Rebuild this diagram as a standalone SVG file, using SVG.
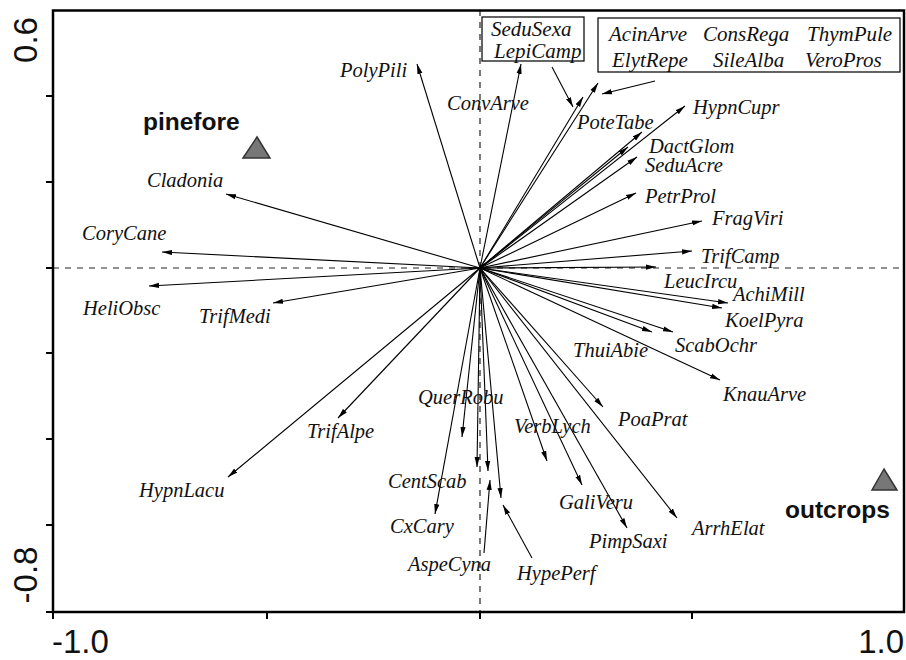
<svg xmlns="http://www.w3.org/2000/svg" width="906" height="660" viewBox="0 0 906 660">
<defs>
<marker id="ah" markerUnits="userSpaceOnUse" markerWidth="10" markerHeight="6" viewBox="0 0 10 6" refX="10" refY="3" orient="auto">
<path d="M0,0.4 L10,3 L0,5.6 z" fill="#000"/>
</marker>
<style>
.sp{font-family:"Liberation Serif","Times New Roman",serif;font-style:italic;font-size:20.5px;fill:#111}
.bx{font-family:"Liberation Serif","Times New Roman",serif;font-style:italic;font-size:21px;fill:#111}
.site{font-family:"Liberation Sans",Arial,sans-serif;font-weight:bold;font-size:24.5px;fill:#111}
.ax{font-family:"Liberation Sans",Arial,sans-serif;font-size:33px;fill:#111}
.arr line{stroke:#000;stroke-width:1.1;marker-end:url(#ah)}
.frame{fill:none;stroke:#000;stroke-width:2.5}
.dash{stroke:#222;stroke-width:1.2;stroke-dasharray:6 6}
.tick{stroke:#000;stroke-width:2}
.tri{fill:#777;stroke:#333;stroke-width:1.5}
.box{fill:none;stroke:#111;stroke-width:1.3}
</style>
</defs>
<rect width="906" height="660" fill="#fff"/>

<g id="axes">
<line class="dash" x1="53" y1="268" x2="905" y2="268"/>
<line class="dash" x1="480" y1="10" x2="480" y2="612"/>
<rect class="frame" x="53" y="10.5" width="851" height="601.5"/>
<line class="tick" x1="46" y1="96" x2="53" y2="96"/>
<line class="tick" x1="46" y1="182" x2="53" y2="182"/>
<line class="tick" x1="46" y1="268" x2="53" y2="268"/>
<line class="tick" x1="46" y1="353" x2="53" y2="353"/>
<line class="tick" x1="46" y1="439" x2="53" y2="439"/>
<line class="tick" x1="46" y1="525" x2="53" y2="525"/>
<line class="tick" x1="46" y1="612" x2="53" y2="612"/>
<line class="tick" x1="53" y1="612" x2="53" y2="619"/>
<line class="tick" x1="267" y1="612" x2="267" y2="619"/>
<line class="tick" x1="480" y1="612" x2="480" y2="619"/>
<line class="tick" x1="692" y1="612" x2="692" y2="619"/>
<text class="ax" transform="translate(37,40) rotate(-90)" text-anchor="middle">0.6</text>
<text class="ax" transform="translate(37,575) rotate(-90)" text-anchor="middle">-0.8</text>
<text class="ax" x="52" y="653">-1.0</text>
<text class="ax" x="904" y="653" text-anchor="end">1.0</text>
</g>

<g id="connectors" class="arr">
<line x1="480" y1="268" x2="417" y2="64"/>
<line x1="480" y1="268" x2="226" y2="194"/>
<line x1="480" y1="268" x2="162" y2="252"/>
<line x1="480" y1="268" x2="149" y2="286"/>
<line x1="480" y1="268" x2="273" y2="303"/>
<line x1="480" y1="268" x2="228" y2="477"/>
<line x1="480" y1="268" x2="338" y2="418"/>
<line x1="480" y1="268" x2="435" y2="514"/>
<line x1="480" y1="268" x2="462" y2="437"/>
<line x1="480" y1="268" x2="477" y2="467"/>
<line x1="480" y1="268" x2="488" y2="471"/>
<line x1="480" y1="268" x2="501" y2="498"/>
<line x1="480" y1="268" x2="547" y2="461"/>
<line x1="480" y1="268" x2="582" y2="485"/>
<line x1="480" y1="268" x2="627" y2="528"/>
<line x1="480" y1="268" x2="677" y2="518"/>
<line x1="480" y1="268" x2="603" y2="407"/>
<line x1="480" y1="268" x2="720" y2="380"/>
<line x1="480" y1="268" x2="652" y2="332"/>
<line x1="480" y1="268" x2="673" y2="332"/>
<line x1="480" y1="268" x2="728" y2="303"/>
<line x1="480" y1="268" x2="722" y2="308"/>
<line x1="480" y1="268" x2="656" y2="267"/>
<line x1="480" y1="268" x2="692" y2="251"/>
<line x1="480" y1="268" x2="702" y2="221"/>
<line x1="480" y1="268" x2="636" y2="193"/>
<line x1="480" y1="268" x2="637" y2="157"/>
<line x1="480" y1="268" x2="628" y2="147"/>
<line x1="480" y1="268" x2="642" y2="132"/>
<line x1="480" y1="268" x2="685" y2="106"/>
<line x1="480" y1="268" x2="583" y2="97"/>
<line x1="480" y1="268" x2="598" y2="83"/>
<line x1="480" y1="268" x2="521" y2="64"/>
<line x1="552" y1="67" x2="573" y2="107"/>
<line x1="655" y1="81" x2="602" y2="94"/>
<line x1="532" y1="558" x2="503" y2="505"/>
<line x1="484" y1="553" x2="490" y2="480"/>
</g>

<g id="pinefore">
<polygon class="tri" points="257,137 243,158 270,158"/>
<text class="site" x="143" y="130">pinefore</text>
</g>
<g id="outcrops">
<polygon class="tri" points="884,469 872,490 897,490"/>
<text class="site" x="785" y="518">outcrops</text>
</g>

<g id="box-sedu">
<rect class="box" x="482" y="17" width="102" height="44"/>
<text class="bx" x="491" y="36">SeduSexa</text>
<text class="bx" x="494" y="58">LepiCamp</text>
</g>
<g id="box-acin">
<rect class="box" x="598" y="18" width="302" height="54"/>
<text class="bx" x="609" y="41">AcinArve</text>
<text class="bx" x="703" y="41">ConsRega</text>
<text class="bx" x="807" y="41">ThymPule</text>
<text class="bx" x="612" y="67">ElytRepe</text>
<text class="bx" x="713" y="67">SileAlba</text>
<text class="bx" x="805" y="67">VeroPros</text>
</g>

<g id="PolyPili"><text class="sp" x="340" y="77">PolyPili</text></g>
<g id="ConvArve"><text class="sp" x="447" y="110">ConvArve</text></g>
<g id="PoteTabe"><text class="sp" x="577" y="129">PoteTabe</text></g>
<g id="HypnCupr"><text class="sp" x="693" y="114">HypnCupr</text></g>
<g id="DactGlom"><text class="sp" x="649" y="153">DactGlom</text></g>
<g id="SeduAcre"><text class="sp" x="645" y="172">SeduAcre</text></g>
<g id="PetrProl"><text class="sp" x="645" y="203">PetrProl</text></g>
<g id="FragViri"><text class="sp" x="712" y="225">FragViri</text></g>
<g id="TrifCamp"><text class="sp" x="701" y="263">TrifCamp</text></g>
<g id="LeucIrcu"><text class="sp" x="664" y="288">LeucIrcu</text></g>
<g id="AchiMill"><text class="sp" x="733" y="301">AchiMill</text></g>
<g id="KoelPyra"><text class="sp" x="725" y="327">KoelPyra</text></g>
<g id="ScabOchr"><text class="sp" x="675" y="352">ScabOchr</text></g>
<g id="ThuiAbie"><text class="sp" x="573" y="357">ThuiAbie</text></g>
<g id="KnauArve"><text class="sp" x="723" y="401">KnauArve</text></g>
<g id="PoaPrat"><text class="sp" x="618" y="426">PoaPrat</text></g>
<g id="VerbLych"><text class="sp" x="514" y="433">VerbLych</text></g>
<g id="GaliVeru"><text class="sp" x="559" y="509">GaliVeru</text></g>
<g id="PimpSaxi"><text class="sp" x="589" y="548">PimpSaxi</text></g>
<g id="ArrhElat"><text class="sp" x="692" y="535">ArrhElat</text></g>
<g id="HypePerf"><text class="sp" x="517" y="580">HypePerf</text></g>
<g id="AspeCyna"><text class="sp" x="408" y="571">AspeCyna</text></g>
<g id="CxCary"><text class="sp" x="390" y="533">CxCary</text></g>
<g id="CentScab"><text class="sp" x="388" y="488">CentScab</text></g>
<g id="QuerRobu"><text class="sp" x="418" y="404">QuerRobu</text></g>
<g id="TrifAlpe"><text class="sp" x="307" y="438">TrifAlpe</text></g>
<g id="HypnLacu"><text class="sp" x="139" y="497">HypnLacu</text></g>
<g id="TrifMedi"><text class="sp" x="199" y="323">TrifMedi</text></g>
<g id="HeliObsc"><text class="sp" x="83" y="315">HeliObsc</text></g>
<g id="CoryCane"><text class="sp" x="82" y="240">CoryCane</text></g>
<g id="Cladonia"><text class="sp" x="147" y="187">Cladonia</text></g>
</svg>
